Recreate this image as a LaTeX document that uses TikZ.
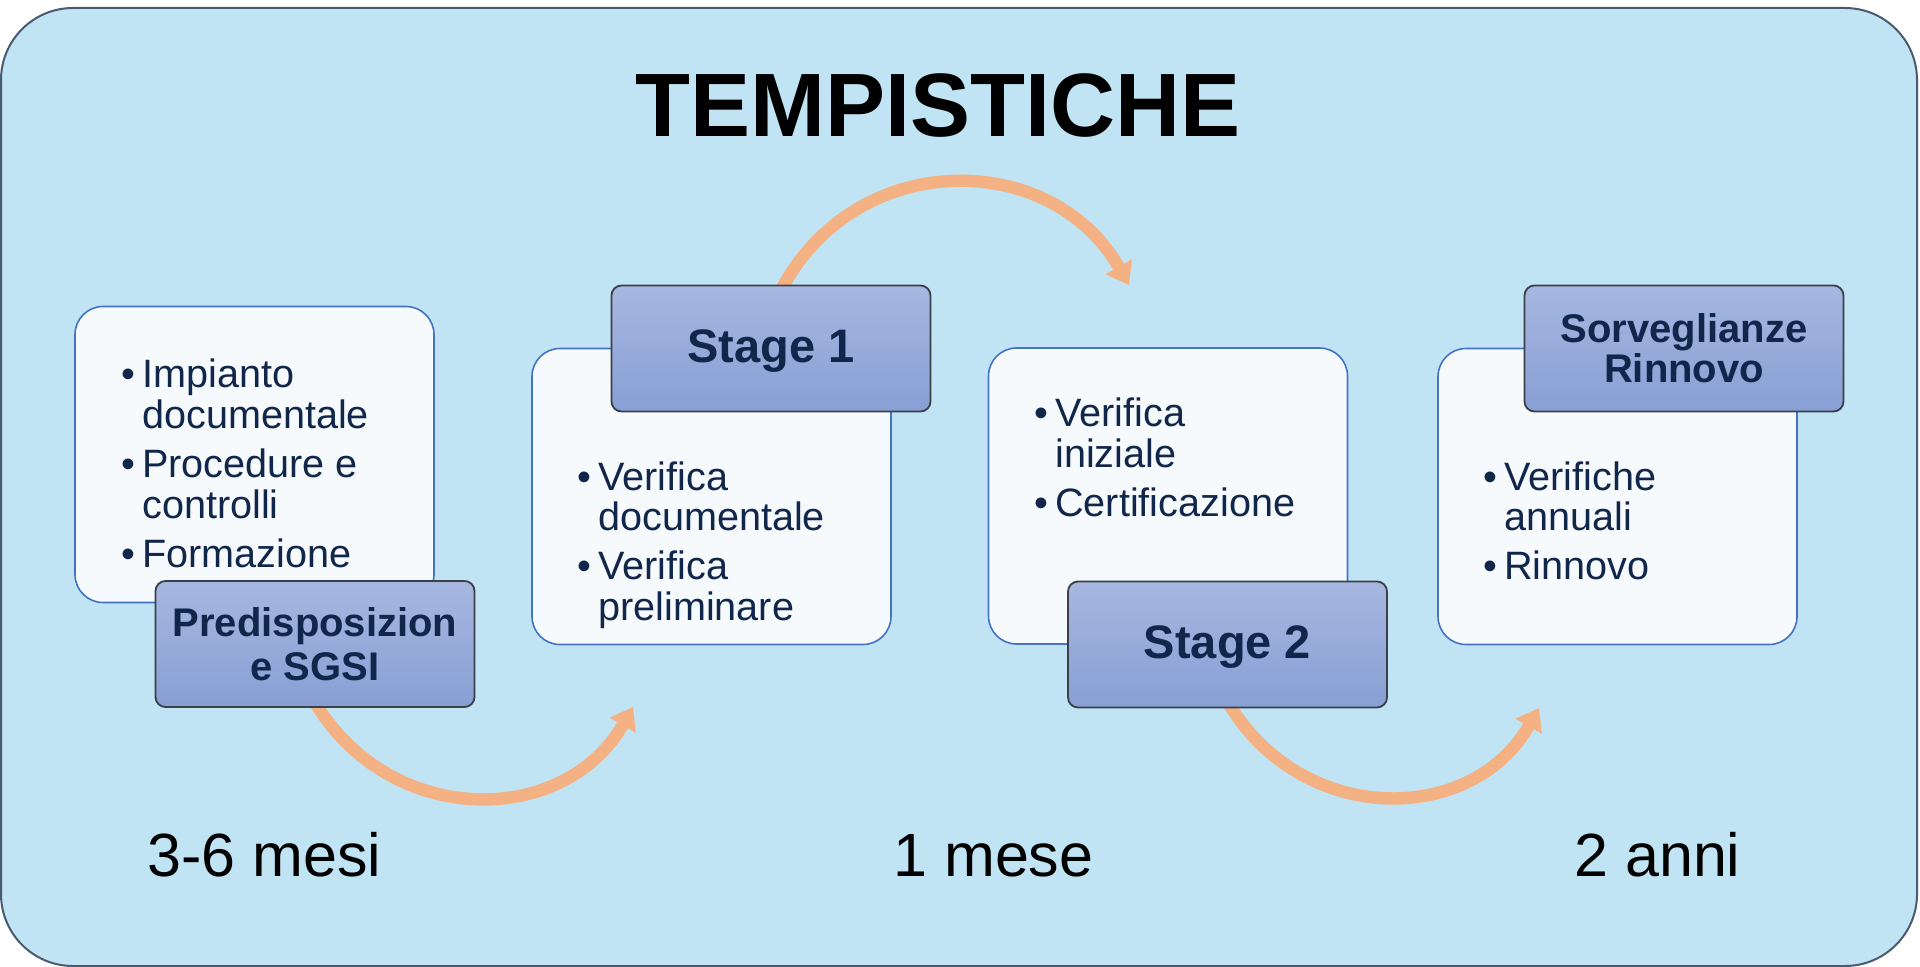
\documentclass[tikz,border=0pt]{standalone}
\usepackage{fontspec}
\setmainfont{Liberation Sans}
\usetikzlibrary{arrows.meta}
\definecolor{bgc}{HTML}{C0E4F4}
\definecolor{framec}{HTML}{4A5A70}
\definecolor{wfill}{HTML}{F6FAFD}
\definecolor{wline}{HTML}{4472C4}
\definecolor{ltop}{HTML}{A7B7E0}
\definecolor{lbot}{HTML}{889FD5}
\definecolor{lline}{HTML}{3B3F48}
\definecolor{txt}{HTML}{10264A}
\definecolor{arrowc}{HTML}{F4B183}
\begin{document}
\begin{tikzpicture}[x=0.5pt,y=-0.5pt,
  frame/.style={draw=framec,line width=1pt,fill=bgc,rounded corners=36pt,minimum width=958pt,minimum height=479pt,inner sep=0pt},
  wbox/.style={draw=wline,line width=0.8pt,fill=wfill,rounded corners=14pt,minimum width=179.5pt,minimum height=148pt,inner sep=0pt},
  lbox/.style={draw=lline,line width=0.9pt,top color=ltop,bottom color=lbot,rounded corners=5pt,minimum width=159.5pt,minimum height=63pt,inner sep=0pt,text=txt,align=center},
  bodytxt/.style={anchor=base west,inner sep=0pt,text=txt,font=\fontsize{19.8pt}{20.25pt}\selectfont},
  dur/.style={anchor=base west,inner sep=0pt,text=black,font=\fontsize{30.5pt}{32pt}\selectfont},
  arr/.style={draw=arrowc,line width=6.2pt,-{Triangle[length=10.5pt,width=14.5pt]}}]
\useasboundingbox (0,0) rectangle (1920,967);
% frame
\node[frame] (fr) at (959,487) {};
% title
\node[anchor=base,inner sep=0pt,font=\fontsize{45pt}{50pt}\selectfont\bfseries] (title) at (938,137) {TEMPISTICHE};
% arrow coordinates
\coordinate (a1s) at (313,699);
\coordinate (a1e) at (633,707);
\coordinate (a2s) at (779,294);
\coordinate (a2e) at (1129,285);
\coordinate (a3s) at (1226,699);
\coordinate (a3e) at (1539,708);
% arrows
\draw[arr] (a1s) .. controls (387.5,828.4) and (563.5,828.4) .. (a1e);
\draw[arr] (a2s) .. controls (852.5,147.6) and (1050.5,147.6) .. (a2e);
\draw[arr] (a3s) .. controls (1298.7,826.9) and (1471.3,826.9) .. (a3e);
% white boxes
\node[wbox] (w1) at (254.5,454.5) {};
\node[wbox] (w2) at (711.5,496.5) {};
\node[wbox] (w3) at (1168,496) {};
\node[wbox] (w4) at (1617.5,496.5) {};
% body texts
\node[bodytxt] (t1) at (121,388) {\begin{tabular}[t]{@{}l@{\hspace{3.5pt}}l@{}}•&Impianto\\&documentale\\[4pt]•&Procedure e\\&controlli\\[4pt]•&Formazione\end{tabular}};
\node[bodytxt] (t2) at (577,490) {\begin{tabular}[t]{@{}l@{\hspace{3.5pt}}l@{}}•&Verifica\\&documentale\\[4pt]•&Verifica\\&preliminare\end{tabular}};
\node[bodytxt] (t3) at (1034,427) {\begin{tabular}[t]{@{}l@{\hspace{3.5pt}}l@{}}•&Verifica\\&iniziale\\[4pt]•&Certificazione\end{tabular}};
\node[bodytxt] (t4) at (1483,490) {\begin{tabular}[t]{@{}l@{\hspace{3.5pt}}l@{}}•&Verifiche\\&annuali\\[4pt]•&Rinnovo\end{tabular}};
% label boxes
\node[lbox,font=\fontsize{20pt}{22pt}\selectfont\bfseries] (l1) at (315,644) {Predisposizion\\e SGSI};
\node[lbox,text depth=2.7pt,font=\fontsize{23.5pt}{26pt}\selectfont\bfseries] (l2) at (771,348.5) {Stage 1};
\node[lbox,text depth=2.7pt,font=\fontsize{23.5pt}{26pt}\selectfont\bfseries] (l3) at (1227.5,644.5) {Stage 2};
\node[lbox,font=\fontsize{20pt}{20pt}\selectfont\bfseries] (l4) at (1684,348.5) {Sorveglianze\\Rinnovo};
% durations
\node[dur] (d1) at (147,876) {3-6 mesi};
\node[dur] (d2) at (893,876) {1 mese};
\node[dur] (d3) at (1574,876) {2 anni};
\end{tikzpicture}
\end{document}
